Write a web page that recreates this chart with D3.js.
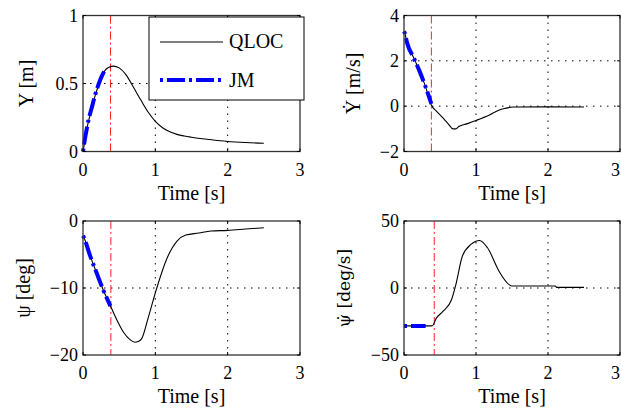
<!DOCTYPE html>
<html><head><meta charset="utf-8">
<script src="https://cdn.jsdelivr.net/npm/d3@7"></script>
<style>
body{margin:0;background:#fff}
svg{display:block}
text{font-family:"Liberation Serif","DejaVu Serif",serif;fill:#000}
</style>
</head><body>
<svg id="c" width="621" height="413"></svg>
<script>
// ---- data ----
const xTicks = [0, 1, 2, 3];
const xTickLabels = ["0", "1", "2", "3"];
const xLabel = "Time [s]";
const seriesNames = ["QLOC", "JM"];

// Panel 1: Y [m]
const tY = [0, 0.02, 0.05, 0.08, 0.125, 0.17, 0.24, 0.31, 0.36, 0.42, 0.5, 0.6, 0.7, 0.8, 0.9, 1.0, 1.1, 1.2, 1.3, 1.4, 1.5, 1.75, 2.0, 2.25, 2.5];
const qlocY = [0, 0.06, 0.16, 0.23, 0.33, 0.415, 0.524, 0.60, 0.62, 0.628, 0.615, 0.56, 0.47, 0.378, 0.29, 0.222, 0.175, 0.145, 0.126, 0.114, 0.105, 0.088, 0.074, 0.066, 0.061];
const tJmY = [0, 0.02, 0.05, 0.08, 0.125, 0.17, 0.24, 0.31];
const jmY = [0, 0.07, 0.16, 0.24, 0.33, 0.42, 0.53, 0.605];
const yTicksY = [0, 0.5, 1];
const yTickLabelsY = ["0", "0.5", "1"];

// Panel 2: Y dot [m/s]
const tYd = [0, 0.01, 0.045, 0.14, 0.21, 0.30, 0.38, 0.45, 0.55, 0.62, 0.68, 0.72, 0.76, 0.88, 1.0, 1.18, 1.34, 1.4, 1.52, 2.0, 2.5];
const qlocYd = [3.3, 3.23, 2.77, 2.1, 1.59, 0.85, 0.04, -0.22, -0.55, -0.8, -1.0, -1.0, -0.9, -0.77, -0.63, -0.40, -0.15, -0.1, -0.04, -0.03, -0.04];
const tJmYd = [0, 0.01, 0.045, 0.14, 0.21, 0.30, 0.38];
const jmYd = [3.3, 3.23, 2.77, 2.1, 1.59, 0.85, 0.1];
const yTicksYd = [-2, 0, 2, 4];
const yTickLabelsYd = ["\u22122", "0", "2", "4"];

// Panel 3: psi [deg]
const tPsi = [0, 0.01, 0.095, 0.19, 0.28, 0.385, 0.47, 0.56, 0.65, 0.72, 0.76, 0.81, 0.9, 1.02, 1.16, 1.3, 1.42, 1.6, 1.77, 2.0, 2.25, 2.5];
const qlocPsi = [-2.2, -2.4, -5.1, -7.8, -10.3, -12.8, -14.8, -16.6, -17.7, -18.1, -18.0, -17.6, -14.5, -10, -5.6, -3.0, -2.1, -1.8, -1.5, -1.4, -1.2, -1.0];
const tJmPsi = [0, 0.01, 0.095, 0.19, 0.28, 0.38];
const jmPsi = [-2.2, -2.4, -5.1, -7.8, -10.3, -12.7];
const yTicksPsi = [-20, -10, 0];
const yTickLabelsPsi = ["\u221220", "\u221210", "0"];

// Panel 4: psi dot [deg/s]
const tPsid = [0, 0.39, 0.45, 0.54, 0.66, 0.72, 0.81, 0.93, 1.05, 1.16, 1.32, 1.46, 1.5, 2.1, 2.12, 2.5];
const qlocPsid = [-28.3, -28.3, -22.5, -17.5, -8.8, 2.5, 23.7, 32.5, 35.5, 30, 12.5, 2.5, 1.5, 1.5, 0.5, 0.5];
const tJmPsid = [0, 0.1, 0.2, 0.3];
const jmPsid = [-28.3, -28.3, -28.3, -28.3];
const yTicksPsid = [-50, 0, 50];
const yTickLabelsPsid = ["\u221250", "0", "50"];

const switchTimes = [0.38, 0.38, 0.385, 0.42];
const yLabels = ["Y [m]", "\u1E8E [m/s]", "\u03C8 [deg]", "\u03C8\u0307 [deg/s]"];

// ---- layout ----
const panels = [
  {x0: 83, x1: 300, y0: 15.5, y1: 151.5, dom: [0, 1], ticks: yTicksY, labels: yTickLabelsY, grid: [0.5], lab: yLabels[0], off: 50, sw: switchTimes[0], qt: tY, qv: qlocY, jt: tJmY, jv: jmY},
  {x0: 404, x1: 620, y0: 15.5, y1: 151.5, dom: [-2, 4], ticks: yTicksYd, labels: yTickLabelsYd, grid: [0, 2], lab: yLabels[1], off: 44, sw: switchTimes[1], qt: tYd, qv: qlocYd, jt: tJmYd, jv: jmYd},
  {x0: 83, x1: 300, y0: 221, y1: 355, dom: [-20, 0], ticks: yTicksPsi, labels: yTickLabelsPsi, grid: [-10], lab: yLabels[2], off: 53, sw: switchTimes[2], qt: tPsi, qv: qlocPsi, jt: tJmPsi, jv: jmPsi},
  {x0: 404, x1: 620, y0: 221, y1: 355, dom: [-50, 50], ticks: yTicksPsid, labels: yTickLabelsPsid, grid: [0], lab: yLabels[3], off: 54, sw: switchTimes[3], qt: tPsid, qv: qlocPsid, jt: tJmPsid, jv: jmPsid, font: "DejaVu Serif", fs: 17}
];

const svg = d3.select("#c");
const jmDash = "3 4 18 4";

panels.forEach((p, i) => {
  const x = d3.scaleLinear().domain([0, 3]).range([p.x0, p.x1]);
  const y = d3.scaleLinear().domain(p.dom).range([p.y1, p.y0]);
  const g = svg.append("g");

  // grid
  g.selectAll(".gx").data([1, 2]).enter().append("line")
    .attr("x1", d => x(d)).attr("x2", d => x(d)).attr("y1", p.y0).attr("y2", p.y1)
    .attr("stroke", "#000").attr("stroke-width", 1).attr("stroke-dasharray", "1.5 5.5");
  g.selectAll(".gy").data(p.grid).enter().append("line")
    .attr("x1", p.x0).attr("x2", p.x1).attr("y1", d => y(d)).attr("y2", d => y(d))
    .attr("stroke", "#000").attr("stroke-width", 1).attr("stroke-dasharray", "1.5 5.5");

  // switch line
  g.append("line").attr("x1", x(p.sw)).attr("x2", x(p.sw)).attr("y1", p.y0).attr("y2", p.y1)
    .attr("stroke", "#ff2020").attr("stroke-width", 1).attr("stroke-dasharray", "8 3 2 3");

  // QLOC
  const qd = p.qt.map((t, k) => [t, p.qv[k]]);
  const line = d3.line().x(d => x(d[0])).y(d => y(d[1])).curve(d3.curveMonotoneX);
  g.append("path").attr("d", line(qd)).attr("fill", "none").attr("stroke", "#000").attr("stroke-width", 1.1);

  // JM
  const jd = p.jt.map((t, k) => [t, p.jv[k]]);
  g.append("path").attr("d", line(jd)).attr("fill", "none").attr("stroke", "#0000ff")
    .attr("stroke-width", 4).attr("stroke-dasharray", jmDash);

  // frame
  g.append("rect").attr("x", p.x0).attr("y", p.y0).attr("width", p.x1 - p.x0).attr("height", p.y1 - p.y0)
    .attr("fill", "none").attr("stroke", "#333").attr("stroke-width", 1.3);

  // ticks (inward, all sides)
  xTicks.forEach(t => {
    g.append("line").attr("x1", x(t)).attr("x2", x(t)).attr("y1", p.y1).attr("y2", p.y1 - 3).attr("stroke", "#000");
    g.append("line").attr("x1", x(t)).attr("x2", x(t)).attr("y1", p.y0).attr("y2", p.y0 + 3).attr("stroke", "#000");
  });
  p.ticks.forEach(t => {
    g.append("line").attr("x1", p.x0).attr("x2", p.x0 + 3).attr("y1", y(t)).attr("y2", y(t)).attr("stroke", "#000");
    g.append("line").attr("x1", p.x1).attr("x2", p.x1 - 3).attr("y1", y(t)).attr("y2", y(t)).attr("stroke", "#000");
  });

  // tick labels (kept inside the 621px canvas)
  g.selectAll(".xl").data(xTicks).enter().append("text")
    .attr("x", d => Math.min(x(d), 615.5)).attr("y", p.y1 + 24).attr("text-anchor", "middle")
    .attr("font-size", 18).text((d, k) => xTickLabels[k]);
  g.selectAll(".yl").data(p.ticks).enter().append("text")
    .attr("x", p.x0 - 5).attr("y", d => y(d)).attr("dy", "0.34em").attr("text-anchor", "end")
    .attr("font-size", 18).text((d, k) => p.labels[k]);

  // axis titles
  g.append("text").attr("x", (p.x0 + p.x1) / 2).attr("y", p.y1 + 48).attr("text-anchor", "middle")
    .attr("font-size", 20).text(xLabel);
  const yt = g.append("text").attr("transform", `translate(${p.x0 - p.off},${(p.y0 + p.y1) / 2}) rotate(-90)`)
    .attr("text-anchor", "middle").attr("font-size", p.fs || 20).text(p.lab);
  if (p.font) yt.style("font-family", p.font);
});

// legend
const lg = svg.append("g");
lg.append("rect").attr("x", 149).attr("y", 17).attr("width", 155).attr("height", 83)
  .attr("fill", "#fff").attr("stroke", "#000").attr("stroke-width", 1);
lg.append("line").attr("x1", 160).attr("x2", 223).attr("y1", 42).attr("y2", 42).attr("stroke", "#000").attr("stroke-width", 1.1);
lg.append("line").attr("x1", 160).attr("x2", 223).attr("y1", 80).attr("y2", 80).attr("stroke", "#0000ff")
  .attr("stroke-width", 4).attr("stroke-dasharray", jmDash);
lg.append("text").attr("x", 229).attr("y", 48).attr("font-size", 20).text(seriesNames[0]);
lg.append("text").attr("x", 229).attr("y", 87).attr("font-size", 20).text(seriesNames[1]);
</script>
</body></html>
